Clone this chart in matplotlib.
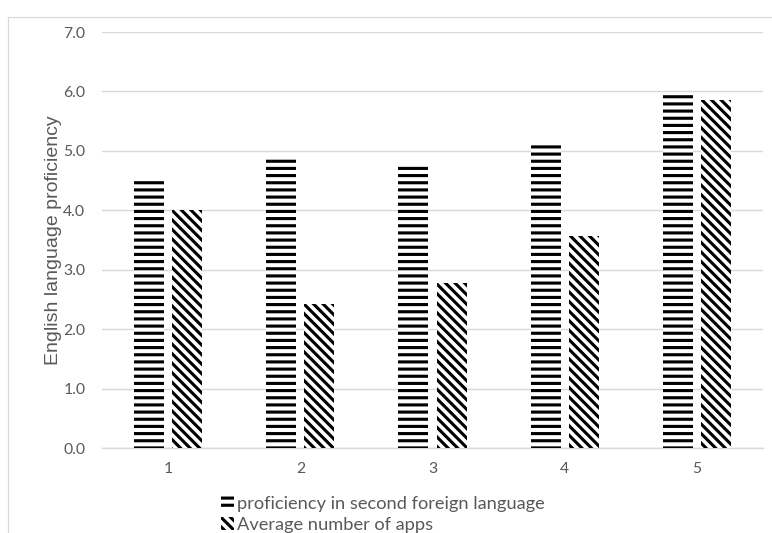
import matplotlib
matplotlib.use("Agg")
import matplotlib.pyplot as plt
from matplotlib.lines import Line2D
import numpy as np

groups = [1, 2, 3, 4, 5]
second_language = [4.49, 4.90, 4.75, 5.15, 5.94]
avg_apps = [4.00, 2.42, 2.78, 3.57, 5.86]
series_names = ["proficiency in second foreign language", "Average number of apps"]
y_ticks = [0.0, 1.0, 2.0, 3.0, 4.0, 5.0, 6.0, 7.0]

DPI = 86
plt.rcParams['font.family'] = ['Lato', 'DejaVu Sans']
plt.rcParams['hatch.linewidth'] = 2.6
plt.rcParams['hatch.color'] = 'black'

fig = plt.figure(figsize=(772 / DPI, 533 / DPI), dpi=DPI)
ax = fig.add_axes([102 / 772, 1 - 448 / 533, 661 / 772, 416 / 533])

x = np.arange(len(groups)) + 1
w = 0.227
off = 0.144
ax.bar(x - off, second_language, w, color='white', edgecolor='black',
       linewidth=0, hatch='--', label=series_names[0], zorder=3)
ax.bar(x + off, avg_apps, w, color='white', edgecolor='black',
       linewidth=0, hatch='\\\\\\', label=series_names[1], zorder=3)

ax.set_xlim(0.5, 5.5)
ax.set_ylim(0, 7)
ax.set_xticks(x)
ax.set_xticklabels([str(g) for g in groups])
ax.set_yticks(y_ticks)
ax.set_yticklabels([f"{v:.1f}" for v in y_ticks])
ax.tick_params(length=0, labelsize=13.2, colors='#595959', pad=14)
ax.tick_params(axis='x', pad=12)
ax.grid(axis='y', color='#d9d9d9', linewidth=1.2, zorder=0)
for s in ['top', 'right', 'left']:
    ax.spines[s].set_visible(False)
ax.spines['bottom'].set_color('#d9d9d9')
ax.spines['bottom'].set_linewidth(1.2)
ax.set_ylabel("English language proficiency", fontsize=16.3, color='#595959',
              family=['Liberation Sans', 'DejaVu Sans'])
ax.yaxis.set_label_coords(-0.06, 0.5)

fig.legend(loc='upper left', bbox_to_anchor=(212 / 772, 1 - 487 / 533),
           frameon=False, fontsize=15.3, handlelength=0.7, handleheight=0.7,
           handletextpad=0.15, labelspacing=0.25, borderpad=0, labelcolor='#595959')

# chart area border (left and top edges)
fig.add_artist(Line2D([8 / 772, 8 / 772], [0, 1 - 17 / 533], transform=fig.transFigure,
                      color='#d9d9d9', linewidth=1))
fig.add_artist(Line2D([8 / 772, 1], [1 - 17 / 533, 1 - 17 / 533], transform=fig.transFigure,
                      color='#d9d9d9', linewidth=1))

fig.savefig("out.png", dpi=DPI)
